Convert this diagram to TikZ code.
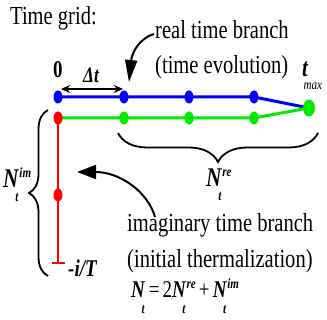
\documentclass[tikz,border=0pt]{standalone}
\usepackage{graphicx}
\usepackage{fontspec}
\setmainfont{Liberation Serif}
\usetikzlibrary{shapes.geometric,arrows.meta,decorations.pathreplacing,backgrounds}
\newcommand\cn[1]{\scalebox{0.79}[1]{#1}}
\newcommand\bi[1]{\textbf{\textit{#1}}}
\newcommand\fs[1]{\fontsize{#1}{#1}\selectfont}
\newcommand\Nt[3]{\bi{N}\hspace{-5pt}\raisebox{-#2pt}{\fs{14}\bi{t}}\hspace{1pt}\raisebox{#3pt}{\fs{14}\bi{#1}}}
\definecolor{myblue}{RGB}{0,0,255}
\definecolor{mygreen}{RGB}{0,235,0}
\definecolor{myred}{RGB}{255,0,0}
\begin{document}
\begin{tikzpicture}[x=1pt,y=-1pt,
  dot/.style={ellipse,inner sep=0pt,minimum width=9pt,minimum height=13pt,fill=#1},
  txt/.style={anchor=base west,inner sep=0pt,font=\fs{26}},
  lab/.style={anchor=base west,inner sep=0pt,font=\fs{24}},
  blueline/.style={myblue,line width=3pt},
  greenline/.style={mygreen,line width=3pt},
  redline/.style={myred,line width=2pt},
  bracestyle/.style={black,line width=1.8pt,decorate},
  callout/.style={black,line width=2pt,-{Triangle[length=22pt,width=12pt]}}]
\useasboundingbox (0,0) rectangle (327,320);
% dots
\node[dot=myblue] (b0) at (58,97) {};
\node[dot=myblue] (b1) at (124,97) {};
\node[dot=myblue] (b2) at (189,97) {};
\node[dot=myblue] (b3) at (254,97) {};
\node[dot=mygreen,minimum width=12pt,minimum height=17pt] (ge) at (309,108) {};
\node[dot=myred] (r0) at (58,118) {};
\node[dot=mygreen] (g1) at (124,118) {};
\node[dot=mygreen] (g2) at (189,118) {};
\node[dot=mygreen] (g3) at (254,118) {};
\node[dot=myred] (r1) at (58,195) {};
\coordinate (rb) at (58,263);
\coordinate (rbl) at (52,263);
\coordinate (rbr) at (65,263);
\begin{scope}[on background layer]
\draw[blueline] (b0.center) -- (b1.center) -- (b2.center) -- (b3.center) -- (ge.center);
\draw[greenline] (r0.center) -- (g1.center) -- (g2.center) -- (g3.center) -- (ge.center);
\draw[redline] (r0.center) -- (r1.center) -- (rb);
\draw[redline] (rbl) -- (rbr);
\end{scope}
% texts
\node[txt] (title) at (10,25) {\cn{Time grid:}};
\node[txt] (real1) at (155,39) {\cn{real time branch}};
\node[txt] (real2) at (155,74) {\cn{(time evolution)}};
\node[txt] (imag1) at (127,232) {\cn{imaginary time branch}};
\node[txt] (imag2) at (127,268) {\cn{(initial thermalization)}};
\node[lab] (zero) at (53,78) {\cn{\textbf{0}}};
\node[anchor=base west,inner sep=0pt,font=\fs{22}] (dt) at (83,83) {\cn{\bi{Δt}}};
\node[anchor=base west,inner sep=0pt,font=\fs{26}] (tmax) at (302,77) {\cn{\bi{t}\hspace{-6pt}\raisebox{-13pt}{\fs{14}\textit{max}}}};
\node[lab] (ioverT) at (68,277) {\cn{\bi{-i/T}}};
\node[anchor=base west,inner sep=0pt,font=\fs{27}] (nre) at (206,187) {\cn{\Nt{re}{14}{10}}};
\node[anchor=base west,inner sep=0pt,font=\fs{27}] (nim) at (3,188) {\cn{\Nt{im}{14}{10}}};
\node[anchor=base west,inner sep=0pt,font=\fs{24}] (eq) at (131,298) {\cn{\Nt{}{16}{9}\,=\,2\Nt{re}{16}{9}\,+\,\Nt{im}{16}{9}}};
% delta t arrow
\coordinate (dl) at (61,89);
\coordinate (dr) at (123,89);
\draw[black,line width=1.8pt,{Stealth[length=9pt,width=8pt]}-{Stealth[length=9pt,width=8pt]}] (dl) -- (dr);
% braces
\coordinate (brR) at (318,133);
\coordinate (brL) at (118,133);
\draw[bracestyle,decoration={brace,amplitude=29pt}] (brR) -- (brL);
\coordinate (blB) at (48,276);
\coordinate (blT) at (48,110);
\draw[bracestyle,decoration={brace,amplitude=19pt}] (blB) -- (blT);
% callout arrows
\coordinate (ra) at (154,34);
\coordinate (rt) at (129,82);
\draw[callout] (ra) .. controls (140,38) and (132,52) .. (rt);
\coordinate (ia) at (155,217);
\coordinate (it) at (77,172);
\draw[callout,-{Triangle[length=19pt,width=14pt]}] (ia) .. controls (148,192) and (120,172) .. (it);
\end{tikzpicture}
\end{document}
